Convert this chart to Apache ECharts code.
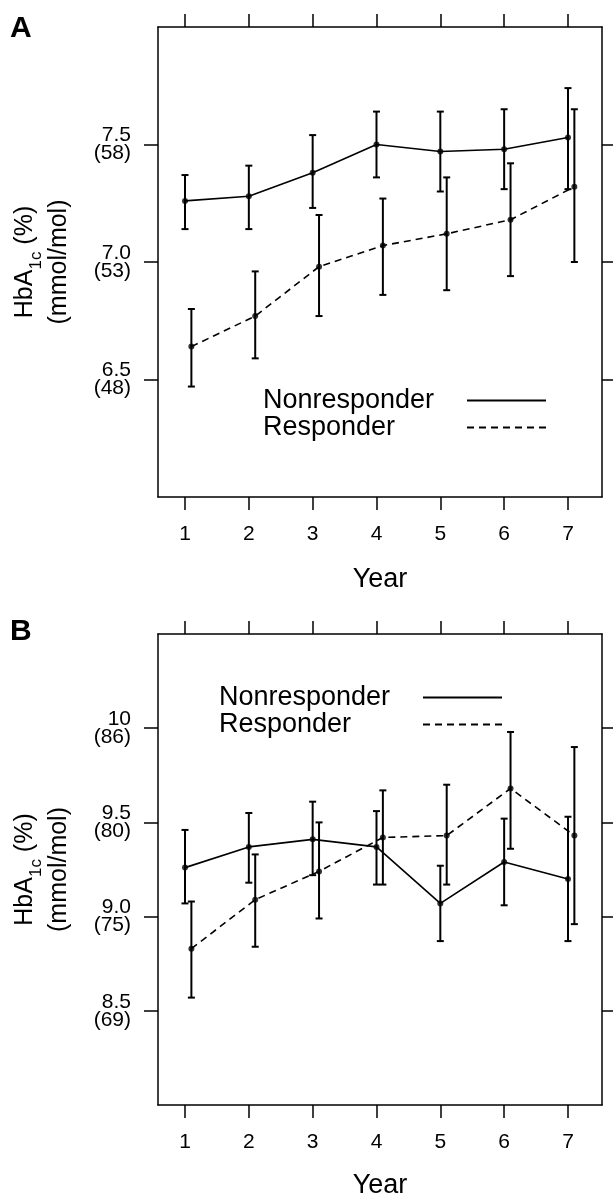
<!DOCTYPE html>
<html>
<head>
<meta charset="utf-8">
<script src="https://cdn.jsdelivr.net/npm/echarts@6/dist/echarts.min.js"></script>
<style>
html,body{margin:0;padding:0;background:#fff;}
#c{width:613px;height:1199px;}
</style>
</head>
<body>
<div id="c"></div>
<script>
// ---- data ----
var years = [1, 2, 3, 4, 5, 6, 7];
var responderShift = 0.1;
var xTickLabels = ['1', '2', '3', '4', '5', '6', '7'];

// Panel A
var nonA_mean = [7.26, 7.28, 7.38, 7.50, 7.47, 7.48, 7.53];
var nonA_lo   = [7.14, 7.14, 7.23, 7.36, 7.30, 7.31, 7.31];
var nonA_hi   = [7.37, 7.41, 7.54, 7.64, 7.64, 7.65, 7.74];
var resA_mean = [6.64, 6.77, 6.98, 7.07, 7.12, 7.18, 7.32];
var resA_lo   = [6.47, 6.59, 6.77, 6.86, 6.88, 6.94, 7.00];
var resA_hi   = [6.80, 6.96, 7.20, 7.27, 7.36, 7.42, 7.65];
var yTicksA = [6.5, 7.0, 7.5];
var yTickLabelsA = ['6.5\n(48)', '7.0\n(53)', '7.5\n(58)'];

// Panel B
var nonB_mean = [9.26, 9.37, 9.41, 9.37, 9.07, 9.29, 9.20];
var nonB_lo   = [9.07, 9.18, 9.22, 9.17, 8.87, 9.06, 8.87];
var nonB_hi   = [9.46, 9.55, 9.61, 9.56, 9.27, 9.52, 9.53];
var resB_mean = [8.83, 9.09, 9.24, 9.42, 9.43, 9.68, 9.43];
var resB_lo   = [8.57, 8.84, 8.99, 9.17, 9.17, 9.36, 8.96];
var resB_hi   = [9.08, 9.33, 9.50, 9.67, 9.70, 9.98, 9.90];
var yTicksB = [8.5, 9.0, 9.5, 10];
var yTickLabelsB = ['8.5\n(69)', '9.0\n(75)', '9.5\n(80)', '10\n(86)'];

var seriesNames = ['Nonresponder', 'Responder'];

// ---- helpers ----
var FONT = '"Liberation Sans", Arial, Helvetica, sans-serif';
var X_MIN = 0.577, X_MAX = 7.533;

function pairs(xs, ys) { return xs.map(function (x, i) { return [x, ys[i]]; }); }
function triples(xs, lo, hi) { return xs.map(function (x, i) { return [x, lo[i], hi[i]]; }); }
function shifted(xs, d) { return xs.map(function (x) { return x + d; }); }

function errRender(params, api) {
  var x = api.value(0), lo = api.value(1), hi = api.value(2);
  var pLo = api.coord([x, lo]), pHi = api.coord([x, hi]);
  var hw = 3.5;
  var st = { stroke: '#000', lineWidth: 2 };
  return {
    type: 'group',
    children: [
      { type: 'line', shape: { x1: pLo[0], y1: pLo[1], x2: pHi[0], y2: pHi[1] }, style: st },
      { type: 'line', shape: { x1: pLo[0] - hw, y1: pLo[1], x2: pLo[0] + hw, y2: pLo[1] }, style: st },
      { type: 'line', shape: { x1: pHi[0] - hw, y1: pHi[1], x2: pHi[0] + hw, y2: pHi[1] }, style: st }
    ]
  };
}

function labelMap(ticks, labels) {
  return function (v) {
    for (var i = 0; i < ticks.length; i++) if (Math.abs(ticks[i] - v) < 1e-6) return labels[i];
    return '';
  };
}

function xAxes(gi, labelMargin, nameGap) {
  var common = {
    type: 'value', gridIndex: gi, min: X_MIN, max: X_MAX,
    splitLine: { show: false },
    axisLine: { show: true, onZero: false, lineStyle: { color: '#000', width: 1.5 } },
    axisTick: { show: true, inside: false, length: 13, customValues: years, lineStyle: { color: '#000', width: 1.5 } }
  };
  var bottom = Object.assign({}, common, {
    position: 'bottom',
    name: 'Year', nameLocation: 'middle', nameGap: nameGap,
    nameTextStyle: { fontFamily: FONT, fontSize: 27, color: '#000' },
    axisLabel: { show: true, margin: labelMargin, customValues: years, fontFamily: FONT, fontSize: 21, color: '#000',
      formatter: function (v) { var i = years.indexOf(v); return i >= 0 ? xTickLabels[i] : ''; } }
  });
  var top = Object.assign({}, common, { position: 'top', axisLabel: { show: false } });
  return [bottom, top];
}

function yAxes(gi, min, max, ticks, labels) {
  var common = {
    type: 'value', gridIndex: gi, min: min, max: max,
    splitLine: { show: false },
    axisLine: { show: true, onZero: false, lineStyle: { color: '#000', width: 1.5 } },
    axisTick: { show: true, inside: false, length: 14, customValues: ticks, lineStyle: { color: '#000', width: 1.5 } }
  };
  var left = Object.assign({}, common, {
    position: 'left',
    name: '{m|HbA}{s|1c}{m| (%)}\n{m|(mmol/mol)}',
    nameLocation: 'middle', nameRotate: 90, nameGap: 82, nameMoveOverlap: false,
    nameTextStyle: {
      fontFamily: FONT, color: '#000', lineHeight: 34,
      rich: {
        m: { fontFamily: FONT, fontSize: 25, color: '#000', lineHeight: 34 },
        s: { fontFamily: FONT, fontSize: 17, color: '#000', lineHeight: 34, verticalAlign: 'bottom', padding: [0, 0, -3, 0] }
      }
    },
    axisLabel: { show: true, margin: 27, customValues: ticks, fontFamily: FONT, fontSize: 21, lineHeight: 18, color: '#000',
      formatter: labelMap(ticks, labels) }
  });
  var right = Object.assign({}, common, { position: 'right', axisLabel: { show: false } });
  return [left, right];
}

function panelSeries(xi, yi, nm, nl, nh, rm, rl, rh) {
  var rx = shifted(years, responderShift);
  return [
    { name: seriesNames[0], type: 'line', xAxisIndex: xi, yAxisIndex: yi, data: pairs(years, nm),
      symbol: 'none', lineStyle: { color: '#000', width: 1.6, type: 'solid' }, itemStyle: { color: '#000' }, z: 3 },
    { name: seriesNames[1], type: 'line', xAxisIndex: xi, yAxisIndex: yi, data: pairs(rx, rm),
      symbol: 'none', lineStyle: { color: '#000', width: 1.6, type: [7, 5] }, itemStyle: { color: '#000' }, z: 3 },
    { type: 'scatter', xAxisIndex: xi, yAxisIndex: yi, data: pairs(years, nm).concat(pairs(rx, rm)),
      symbol: 'circle', symbolSize: 6, itemStyle: { color: '#000' }, z: 4 },
    { type: 'custom', xAxisIndex: xi, yAxisIndex: yi, renderItem: errRender,
      data: triples(years, nl, nh), encode: { x: 0, y: [1, 2] }, z: 2 },
    { type: 'custom', xAxisIndex: xi, yAxisIndex: yi, renderItem: errRender,
      data: triples(rx, rl, rh), encode: { x: 0, y: [1, 2] }, z: 2 }
  ];
}

function legendAt(left, top) {
  return {
    left: left, top: top, orient: 'vertical', align: 'right', padding: 0, itemGap: 0,
    itemWidth: 79, itemHeight: 14,
    data: seriesNames,
    selectedMode: false,
    itemStyle: { opacity: 0 },
    formatter: '{t|{name}}',
    textStyle: {
      fontFamily: FONT, fontSize: 27, color: '#000', lineHeight: 27,
      rich: { t: { fontFamily: FONT, fontSize: 27, color: '#000', lineHeight: 27, width: 199, align: 'left' } }
    }
  };
}

var chart = echarts.init(document.getElementById('c'), null, { renderer: 'canvas' });
var xa = xAxes(0, 27, 69).concat(xAxes(1, 27, 67));
var ya = yAxes(0, 6.0, 8.0, yTicksA, yTickLabelsA).concat(yAxes(1, 8.0, 10.5, yTicksB, yTickLabelsB));

chart.setOption({
  animation: false,
  backgroundColor: '#fff',
  title: [
    { text: 'A', left: 10, top: 14, padding: 0, textStyle: { fontFamily: FONT, fontSize: 30, fontWeight: 'bold', color: '#000' } },
    { text: 'B', left: 10, top: 617, padding: 0, textStyle: { fontFamily: FONT, fontSize: 30, fontWeight: 'bold', color: '#000' } }
  ],
  grid: [
    { left: 158, right: 11, top: 27, height: 470, containLabel: false, outerBoundsMode: 'none' },
    { left: 158, right: 11, top: 634, height: 471, containLabel: false, outerBoundsMode: 'none' }
  ],
  legend: [legendAt(263, 387), legendAt(219, 684)],
  xAxis: xa,
  yAxis: ya,
  series: panelSeries(0, 0, nonA_mean, nonA_lo, nonA_hi, resA_mean, resA_lo, resA_hi)
    .concat(panelSeries(2, 2, nonB_mean, nonB_lo, nonB_hi, resB_mean, resB_lo, resB_hi))
});
</script>
</body>
</html>
